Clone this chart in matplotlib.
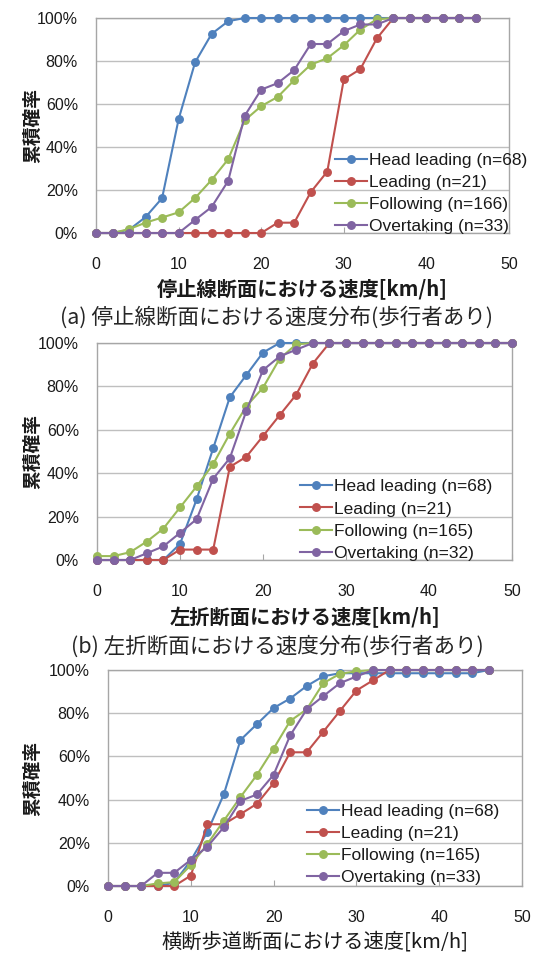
import matplotlib
matplotlib.use("Agg")
import matplotlib.pyplot as plt

W, H = 540, 957
DPI = 100

# Speed classes [km/h]
speed_a = [0, 2, 4, 6, 8, 10, 12, 14, 16, 18, 20, 22, 24, 26, 28, 30, 32, 34, 36, 38, 40, 42, 44, 46]
speed_b = [0, 2, 4, 6, 8, 10, 12, 14, 16, 18, 20, 22, 24, 26, 28, 30, 32, 34, 36, 38, 40, 42, 44, 46, 48, 50]
speed_c = [0, 2, 4, 6, 8, 10, 12, 14, 16, 18, 20, 22, 24, 26, 28, 30, 32, 34, 36, 38, 40, 42, 44, 46]

# (a) stop line section - cumulative share [%]
head_a = [0, 0, 1.5, 7.4, 16.2, 52.9, 79.4, 92.6, 98.5, 100, 100, 100, 100, 100, 100, 100,
          100, 100, 100, 100, 100, 100, 100, 100]
lead_a = [0, 0, 0, 0, 0, 0, 0, 0, 0, 0, 0, 4.8, 4.8, 19.0, 28.6, 71.4, 76.2, 90.5,
          100, 100, 100, 100, 100, 100]
follow_a = [0, 0, 1.8, 4.8, 7.2, 9.6, 16.3, 24.7, 34.3, 52.4, 59.0, 63.3, 71.1, 78.3, 81.3,
            87.3, 94.6, 99.4, 100, 100, 100, 100, 100, 100]
overtake_a = [0, 0, 0, 0, 0, 0, 6.1, 12.1, 24.2, 54.5, 66.7, 69.7, 75.8, 87.9, 87.9, 93.9,
              97.0, 97.0, 100, 100, 100, 100, 100, 100]

# (b) left-turn section
head_b = [0, 0, 0, 0, 0, 7.4, 27.9, 51.5, 75.0, 85.3, 95.6, 100, 100, 100, 100, 100, 100,
          100, 100, 100, 100, 100, 100, 100, 100, 100]
lead_b = [0, 0, 0, 0, 0, 4.8, 4.8, 4.8, 42.9, 47.6, 57.1, 66.7, 76.2, 90.5, 100, 100, 100,
          100, 100, 100, 100, 100, 100, 100, 100, 100]
follow_b = [1.8, 1.8, 3.6, 8.5, 14.5, 24.2, 33.9, 44.2, 58.2, 70.9, 79.4, 92.7, 99.4, 100,
            100, 100, 100, 100, 100, 100, 100, 100, 100, 100, 100, 100]
overtake_b = [0, 0, 0, 3.1, 6.3, 12.5, 18.8, 37.5, 46.9, 68.8, 87.5, 93.8, 96.9, 100, 100,
              100, 100, 100, 100, 100, 100, 100, 100, 100, 100, 100]

# (c) crosswalk section
head_c = [0, 0, 0, 0, 1.5, 11.8, 25.0, 42.6, 67.6, 75.0, 82.4, 86.8, 92.6, 97.1, 98.5, 98.5,
          98.5, 98.5, 98.5, 98.5, 98.5, 98.5, 98.5, 100]
lead_c = [0, 0, 0, 0, 0, 4.8, 28.6, 28.6, 33.3, 38.1, 47.6, 61.9, 61.9, 71.4, 81.0, 90.5,
          95.2, 100, 100, 100, 100, 100, 100, 100]
follow_c = [0, 0, 0, 1.2, 1.8, 9.7, 19.4, 30.3, 41.2, 51.5, 63.6, 76.4, 81.8, 93.9, 98.2,
            99.4, 100, 100, 100, 100, 100, 100, 100, 100]
overtake_c = [0, 0, 0, 6.1, 6.1, 12.1, 18.2, 27.3, 39.4, 42.4, 51.5, 69.7, 81.8, 87.9, 93.9,
              97.0, 100, 100, 100, 100, 100, 100, 100, 100]

labels_a = ["Head leading (n=68)", "Leading (n=21)", "Following (n=166)", "Overtaking (n=33)"]
labels_b = ["Head leading (n=68)", "Leading (n=21)", "Following (n=165)", "Overtaking (n=32)"]
labels_c = ["Head leading (n=68)", "Leading (n=21)", "Following (n=165)", "Overtaking (n=33)"]

xticks = [0, 10, 20, 30, 40, 50]
yticks = [0, 20, 40, 60, 80, 100]
ytick_labels = ["0%", "20%", "40%", "60%", "80%", "100%"]

xlabels = ["停止線断面における速度[km/h]", "左折断面における速度[km/h]", "横断歩道断面における速度[km/h]"]
xlabel_weights = ["bold", "bold", "normal"]
captions = ["(a) 停止線断面における速度分布(歩行者あり)", "(b) 左折断面における速度分布(歩行者あり)", None]
ylabel = "累積確率"

colors = ["#4F81BD", "#C0504D", "#9BBB59", "#8064A2"]
GRID = "#bfbfbf"
FRAME = "#a6a6a6"
LATIN = ["Liberation Sans", "DejaVu Sans"]
CJK = ["Noto Sans CJK JP", "DejaVu Sans"]

plt.rcParams["font.family"] = LATIN

fig = plt.figure(figsize=(W / DPI, H / DPI), dpi=DPI)
fig.patch.set_facecolor("white")


def rect(left, top, right, bottom):
    return [left / W, 1 - bottom / H, (right - left) / W, (bottom - top) / H]


panels = [
    dict(rect=rect(96, 18, 509, 233), x=speed_a,
         series=[head_a, lead_a, follow_a, overtake_a], labels=labels_a,
         leg=(0.578, 0.372), xl_y=289, cap_y=318, cap_x=277, yl_x=33),
    dict(rect=rect(97, 343, 512, 560), x=speed_b,
         series=[head_b, lead_b, follow_b, overtake_b], labels=labels_b,
         leg=(0.488, 0.372), xl_y=618, cap_y=647, cap_x=277, yl_x=33),
    dict(rect=rect(108, 670, 522, 886), x=speed_c,
         series=[head_c, lead_c, follow_c, overtake_c], labels=labels_c,
         leg=(0.48, 0.38), xl_y=942, cap_y=None, cap_x=None, yl_x=33),
]

for i, p in enumerate(panels):
    ax = fig.add_axes(p["rect"])
    for ys, c, lab in zip(p["series"], colors, p["labels"]):
        ax.plot(p["x"], ys, color=c, lw=1.5, marker="o", ms=5.4,
                markerfacecolor=c, markeredgecolor=c, label=lab, clip_on=False, zorder=3)
    ax.set_xlim(0, 50)
    ax.set_ylim(0, 100)
    ax.set_xticks(xticks)
    ax.set_yticks(yticks)
    ax.set_yticklabels(ytick_labels)
    ax.grid(axis="y", color=GRID, lw=1.0)
    ax.set_axisbelow(True)
    for s in ax.spines.values():
        s.set_color(FRAME)
        s.set_linewidth(1.0)
    ax.tick_params(axis="x", direction="in", length=4, color=FRAME, labelsize=11.5,
                   pad=17, labelcolor="#1a1a1a")
    ax.tick_params(axis="y", length=0, labelsize=11.5, pad=13, labelcolor="#1a1a1a")

    leg = ax.legend(loc="upper left", bbox_to_anchor=p["leg"], frameon=False,
                    fontsize=12.5, handlelength=1.85, handletextpad=0.15,
                    labelspacing=0.4, borderpad=0, borderaxespad=0)
    for t in leg.get_texts():
        t.set_color("#1a1a1a")

    # axis titles and caption
    ax_left = p["rect"][0] * W
    ax_right = (p["rect"][0] + p["rect"][2]) * W
    ax_top = (1 - p["rect"][1] - p["rect"][3]) * H
    ax_bottom = (1 - p["rect"][1]) * H
    fig.text((ax_left + ax_right) / 2 / W, 1 - p["xl_y"] / H, xlabels[i],
             family=CJK, fontsize=14.6, fontweight=xlabel_weights[i], ha="center",
             va="center", color="#1a1a1a")
    fig.text(p["yl_x"] / W, 1 - (ax_top + ax_bottom) / 2 / H, ylabel,
             family=CJK, fontsize=13.5, fontweight="bold", rotation=90,
             ha="center", va="center", color="#1a1a1a")
    if captions[i] is not None:
        fig.text(p["cap_x"] / W, 1 - p["cap_y"] / H, captions[i],
                 family=CJK, fontsize=15.5, ha="center", va="center", color="#262626")

fig.savefig("out.png", dpi=DPI, facecolor="white")
